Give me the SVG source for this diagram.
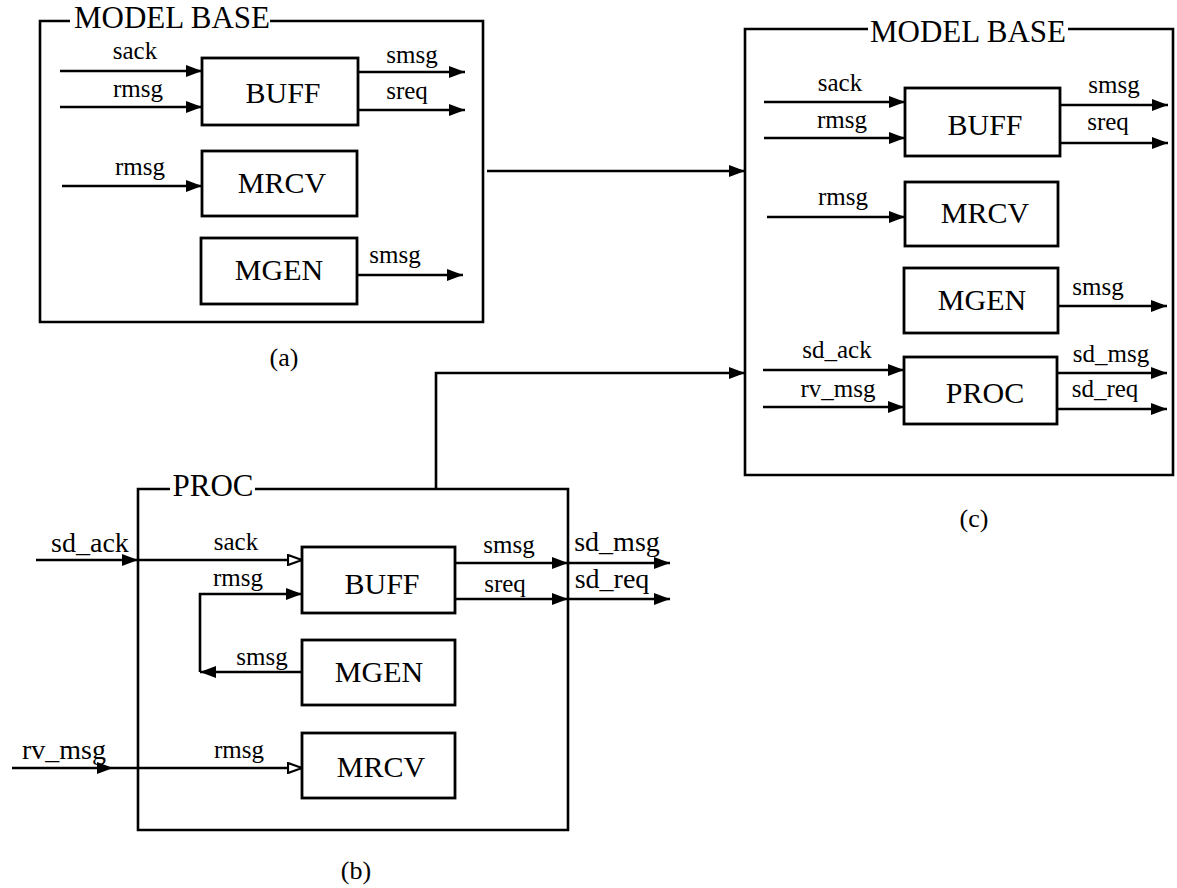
<svg xmlns="http://www.w3.org/2000/svg" width="1177" height="888" viewBox="0 0 1177 888" font-family="Liberation Serif, Times New Roman, serif">
<style>
text{font-family:"Liberation Serif","Times New Roman",serif;fill:#000;text-anchor:middle}
.frame{fill:none;stroke:#000;stroke-width:2.6}
.box{fill:#fff;stroke:#000;stroke-width:2.8}
.title{font-size:31px}
.bt{font-size:30px}
.lb{font-size:25px}
.lg{font-size:28px}
.cap{font-size:26px}
.w{fill:none;stroke:#000;stroke-width:2.6}
.a{marker-end:url(#ah)}
.o{marker-end:url(#oh)}
</style>
<defs>
<marker id="ah" markerUnits="userSpaceOnUse" markerWidth="16" markerHeight="12" refX="16" refY="6" orient="auto"><path d="M0,0 L16,6 L0,12 z" fill="#000"/></marker>
<marker id="oh" markerUnits="userSpaceOnUse" markerWidth="16" markerHeight="12" refX="15" refY="6" orient="auto"><path d="M1,1 L15,6 L1,11 z" fill="#fff" stroke="#000" stroke-width="2.2"/></marker>
</defs>
<rect width="1177" height="888" fill="#fff"/>

<g id="panel-a">
<path class="frame" d="M70,21 H40 V322 H483 V21 H270"/>
<text class="title" x="172" y="28">MODEL BASE</text>
<text class="cap" x="284" y="366">(a)</text>
</g>
<g id="a-buff"><rect class="box" x="202" y="58" width="156" height="67"/><text class="bt" x="283" y="103">BUFF</text></g>
<g id="a-mrcv"><rect class="box" x="202" y="151" width="155" height="65"/><text class="bt" x="282" y="193">MRCV</text></g>
<g id="a-mgen"><rect class="box" x="201" y="238" width="156" height="66"/><text class="bt" x="279" y="280">MGEN</text></g>

<g id="panel-c">
<path class="frame" d="M868,29 H745 V475 H1173 V29 H1068"/>
<text class="title" x="968" y="42">MODEL BASE</text>
<text class="cap" x="974" y="527">(c)</text>
</g>
<g id="c-buff"><rect class="box" x="905" y="88" width="155" height="68"/><text class="bt" x="985" y="135">BUFF</text></g>
<g id="c-mrcv"><rect class="box" x="905" y="182" width="153" height="64"/><text class="bt" x="985" y="223">MRCV</text></g>
<g id="c-mgen"><rect class="box" x="904" y="268" width="154" height="65"/><text class="bt" x="982" y="310">MGEN</text></g>
<g id="c-proc"><rect class="box" x="904" y="357" width="153" height="67"/><text class="bt" x="985" y="403">PROC</text></g>

<g id="panel-b">
<path class="frame" d="M170,489 H138 V830 H568 V489 H255"/>
<text class="title" x="213" y="496">PROC</text>
<text class="cap" x="356" y="879">(b)</text>
</g>
<g id="b-buff"><rect class="box" x="302" y="547" width="153" height="66"/><text class="bt" x="382" y="594">BUFF</text></g>
<g id="b-mgen"><rect class="box" x="302" y="640" width="153" height="65"/><text class="bt" x="379" y="682">MGEN</text></g>
<g id="b-mrcv"><rect class="box" x="302" y="733" width="153" height="65"/><text class="bt" x="381" y="777">MRCV</text></g>

<g id="connectors">
<path class="w a" d="M60,71 H202"/>
<path class="w a" d="M60,107 H202"/>
<path class="w a" d="M358,72 H465"/>
<path class="w a" d="M358,110 H465"/>
<path class="w a" d="M62,186 H202"/>
<path class="w a" d="M357,275 H463"/>
<path class="w a" d="M764,102 H905"/>
<path class="w a" d="M764,138 H905"/>
<path class="w a" d="M1060,105 H1168"/>
<path class="w a" d="M1060,143 H1168"/>
<path class="w a" d="M767,217 H905"/>
<path class="w a" d="M1058,306 H1167"/>
<path class="w a" d="M763,370 H904"/>
<path class="w a" d="M763,407 H904"/>
<path class="w a" d="M1057,373 H1167"/>
<path class="w a" d="M1057,409 H1167"/>
<path class="w a" d="M487,171 H745"/>
<path class="w a" d="M436,489 V373 H745"/>
<path class="w a" d="M36,560 H138"/>
<path class="w o" d="M138,560 H302"/>
<path class="w a" d="M302,672 H200"/>
<path class="w a" d="M200,672 V594 H302"/>
<path class="w a" d="M455,563 H568"/>
<path class="w a" d="M568,563 H670"/>
<path class="w a" d="M455,599 H568"/>
<path class="w a" d="M568,599 H670"/>
<path class="w a" d="M12,768 H113"/>
<path class="w o" d="M113,768 H302"/>
</g>

<g id="labels">
<text class="lb" x="135" y="59">sack</text>
<text class="lb" x="138" y="97">rmsg</text>
<text class="lb" x="412" y="63">smsg</text>
<text class="lb" x="407" y="99">sreq</text>
<text class="lb" x="140" y="175">rmsg</text>
<text class="lb" x="395" y="263">smsg</text>
<text class="lb" x="840" y="91">sack</text>
<text class="lb" x="842" y="128">rmsg</text>
<text class="lb" x="1114" y="93">smsg</text>
<text class="lb" x="1108" y="130">sreq</text>
<text class="lb" x="843" y="205">rmsg</text>
<text class="lb" x="1098" y="295">smsg</text>
<text class="lb" x="837" y="358">sd_ack</text>
<text class="lb" x="838" y="397">rv_msg</text>
<text class="lb" x="1111" y="362">sd_msg</text>
<text class="lb" x="1105" y="397">sd_req</text>
<text class="lg" x="90" y="552">sd_ack</text>
<text class="lb" x="236" y="550">sack</text>
<text class="lb" x="238" y="586">rmsg</text>
<text class="lb" x="262" y="665">smsg</text>
<text class="lb" x="509" y="553">smsg</text>
<text class="lb" x="505" y="592">sreq</text>
<text class="lg" x="617" y="551">sd_msg</text>
<text class="lg" x="612" y="588">sd_req</text>
<text class="lg" x="64" y="759">rv_msg</text>
<text class="lb" x="239" y="758">rmsg</text>
</g>
</svg>
